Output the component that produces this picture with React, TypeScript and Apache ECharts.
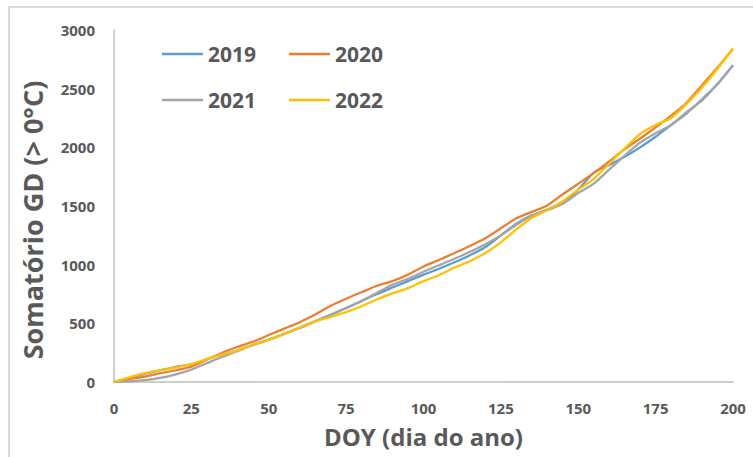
import React, { useEffect, useRef } from "react";
import * as echarts from "echarts";

const days = [0, 5, 10, 15, 20, 25, 30, 35, 40, 45, 50, 55, 60, 65, 70, 75, 80, 85, 90, 95, 100, 105, 110, 115, 120, 125, 130, 135, 140, 145, 150, 155, 160, 165, 170, 175, 180, 185, 190, 195, 200];

const s2019 = [0, 35, 70, 100, 130, 150, 195, 235, 270, 320, 360, 410, 460, 515, 570, 630, 690, 750, 805, 860, 915, 965, 1020, 1080, 1150, 1250, 1350, 1420, 1470, 1530, 1640, 1785, 1850, 1920, 2000, 2090, 2190, 2290, 2410, 2540, 2700];
const s2020 = [0, 25, 45, 75, 100, 130, 190, 250, 300, 345, 400, 455, 510, 575, 650, 710, 765, 820, 860, 915, 985, 1040, 1100, 1160, 1225, 1310, 1395, 1450, 1505, 1600, 1690, 1780, 1880, 1985, 2075, 2170, 2270, 2380, 2530, 2680, 2840];
const s2021 = [0, 5, 15, 35, 65, 105, 160, 215, 265, 315, 360, 410, 465, 520, 575, 630, 690, 760, 830, 880, 940, 995, 1050, 1110, 1175, 1250, 1340, 1420, 1465, 1520, 1610, 1690, 1810, 1930, 2040, 2120, 2190, 2300, 2400, 2540, 2700];
const s2022 = [0, 40, 75, 100, 125, 150, 195, 235, 270, 320, 360, 410, 465, 515, 555, 595, 645, 705, 755, 800, 860, 910, 975, 1030, 1100, 1190, 1300, 1400, 1465, 1540, 1640, 1730, 1860, 1990, 2115, 2190, 2250, 2370, 2510, 2670, 2840];

const seriesNames = ["2019", "2020", "2021", "2022"];
const seriesValues = [s2019, s2020, s2021, s2022];
const colors = ["#5B9BD5", "#ED7D31", "#A5A5A5", "#FFC000"];

const FONT = "'Open Sans', sans-serif";
const TEXT = "#595959";

export default function App() {
  const ref = useRef<HTMLDivElement>(null);
  useEffect(() => {
    if (!ref.current) return;
    const chart = echarts.init(ref.current, undefined, { renderer: "svg" });
    const legendCommon = {
      orient: "horizontal" as const,
      icon: "rect",
      itemWidth: 41,
      itemHeight: 2.5,
      itemGap: 33,
      textStyle: { fontFamily: FONT, fontSize: 21, fontWeight: "bold" as const, color: TEXT, lineHeight: 24 },
      padding: 0,
    };
    chart.setOption({
      animation: false,
      backgroundColor: "#ffffff",
      color: colors,
      graphic: [
        {
          type: "rect",
          shape: { x: 9, y: 7, width: 800, height: 500 },
          style: { fill: "none", stroke: "#D9D9D9", lineWidth: 2 },
          silent: true,
        },
      ],
      legend: [
        { ...legendCommon, left: 162, top: 42, data: seriesNames.slice(0, 2) },
        { ...legendCommon, left: 162, top: 88, data: seriesNames.slice(2, 4) },
      ],
      grid: { left: 114, right: 20, top: 30, bottom: 75 },
      xAxis: {
        type: "value",
        min: 0,
        max: 200,
        interval: 25,
        name: "DOY (dia do ano)",
        nameLocation: "middle",
        nameGap: 42,
        nameTextStyle: { fontFamily: FONT, fontSize: 24, fontWeight: "bold", color: TEXT },
        axisLine: { show: true, lineStyle: { color: "#BFBFBF", width: 1.5 } },
        axisTick: { show: false },
        splitLine: { show: false },
        axisLabel: { margin: 18, fontFamily: FONT, fontSize: 15, fontWeight: "bold", color: TEXT },
      },
      yAxis: {
        type: "value",
        min: 0,
        max: 3000,
        interval: 500,
        name: "Somatório GD (> 0°C)",
        nameLocation: "middle",
        nameGap: 68,
        nameTextStyle: { fontFamily: FONT, fontSize: 27, fontWeight: "bold", color: TEXT, padding: [0, 28, 0, 0] },
        axisLine: { show: true, lineStyle: { color: "#BFBFBF", width: 1.5 } },
        axisTick: { show: false },
        splitLine: { show: false },
        axisLabel: {
          margin: 19,
          fontFamily: FONT,
          fontSize: 15,
          fontWeight: "bold",
          color: TEXT,
          formatter: (v: number) => String(v),
        },
      },
      series: seriesNames.map((name, i) => ({
        name,
        type: "line",
        showSymbol: false,
        smooth: 0.2,
        data: days.map((d, j) => [d, seriesValues[i][j]]),
        lineStyle: { width: 2.25, color: colors[i] },
        itemStyle: { color: colors[i] },
      })),
    });
    return () => chart.dispose();
  }, []);
  return <div ref={ref} style={{ position: "absolute", left: 0, top: 0, width: 753, height: 457 }} />;
}
